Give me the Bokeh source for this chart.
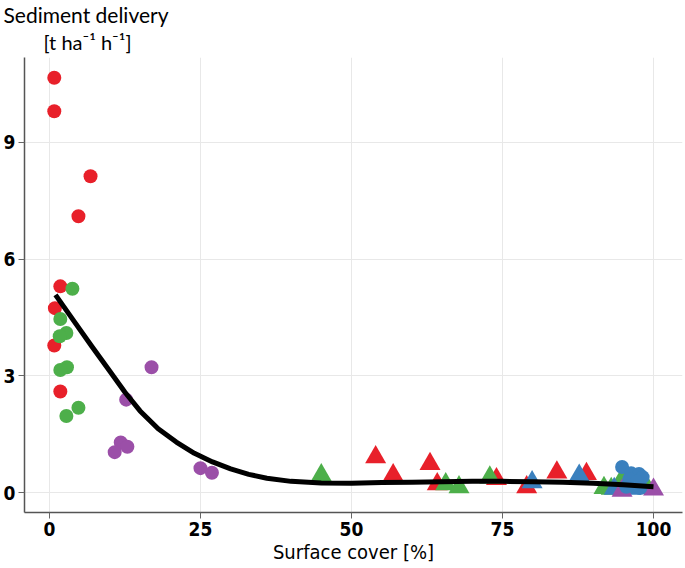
from bokeh.plotting import figure
from bokeh.models import Range1d, Title, FixedTicker
from bokeh.embed import file_html
from bokeh.resources import INLINE

# ---- data ----
red_circ_x = [0.8, 0.8, 6.8, 4.8, 1.8, 0.9, 0.8, 1.8]
red_circ_y = [10.66, 9.80, 8.13, 7.10, 5.30, 4.74, 3.78, 2.60]

green_circ_x = [3.8, 1.8, 2.8, 1.7, 2.9, 1.8, 4.8, 2.8]
green_circ_y = [5.24, 4.46, 4.10, 4.02, 3.22, 3.15, 2.18, 1.97]

purple_circ_x = [16.9, 12.7, 11.8, 12.9, 10.8, 25.0, 26.9]
purple_circ_y = [3.22, 2.39, 1.29, 1.18, 1.04, 0.63, 0.51]

blue_circ_x = [94.8, 96.3, 97.6, 98.2, 96.0, 97.2, 95.5, 97.8]
blue_circ_y = [0.66, 0.50, 0.48, 0.40, 0.35, 0.28, 0.15, 0.12]

red_tri_x = [54.0, 56.9, 63.0, 64.2, 74.0, 79.0, 84.0, 88.9]
red_tri_y = [0.91, 0.45, 0.74, 0.22, 0.35, 0.14, 0.52, 0.48]

green_tri_x = [45.0, 65.6, 67.8, 72.9, 91.8, 93.0, 94.8, 99.0]
green_tri_y = [0.45, 0.22, 0.14, 0.39, 0.12, 0.10, 0.35, 0.12]

blue_tri_x = [79.9, 87.7, 93.5, 96.2, 98.0]
blue_tri_y = [0.27, 0.44, 0.10, 0.10, 0.15]

purple_tri_x = [94.8, 100.0]
purple_tri_y = [0.05, 0.08]

curve_x = [1, 4, 7, 10, 12.5, 15, 18, 21, 24, 27, 30, 33, 36, 40, 45, 50, 55, 60, 65, 70, 75, 80, 85, 90, 95, 100]
curve_y = [5.08, 4.42, 3.76, 3.12, 2.58, 2.1, 1.64, 1.3, 1.01, 0.79, 0.61, 0.47, 0.37, 0.29, 0.25, 0.24,
           0.26, 0.27, 0.28, 0.29, 0.29, 0.28, 0.27, 0.24, 0.2, 0.15]

x_ticks = [0, 25, 50, 75, 100]
y_ticks = [0, 3, 6, 9]

RED = "#E8202A"
GREEN = "#4DAF4A"
BLUE = "#3A80BE"
PURPLE = "#9B4FA8"
NARROW = "DejaVu Sans Condensed, Liberation Sans, sans-serif"

p = figure(width=684, height=567, output_backend="svg", toolbar_location=None,
           x_range=Range1d(-4.13, 104.8), y_range=Range1d(-0.51, 11.18),
           min_border_left=23, min_border_right=2, min_border_top=57, min_border_bottom=55)
p.title.visible = False
p.outline_line_color = None
p.background_fill_color = "white"

for ax, ticks in ((p.xaxis[0], x_ticks), (p.yaxis[0], y_ticks)):
    ax.ticker = FixedTicker(ticks=ticks)
    ax.minor_tick_line_color = None
    ax.major_tick_in = 0
    ax.major_tick_out = 6
    ax.major_tick_line_color = "#666666"
    ax.axis_line_color = "#555555"
    ax.axis_line_width = 1.5
    ax.major_label_text_font = NARROW
    ax.major_label_text_font_style = "bold"
    ax.major_label_text_font_size = "19px"
    ax.major_label_text_color = "black"
    ax.major_label_standoff = 3

p.xaxis[0].axis_label = "Surface cover [%]"
p.xaxis[0].axis_label_text_font = NARROW
p.xaxis[0].axis_label_text_font_style = "normal"
p.xaxis[0].axis_label_text_font_size = "20px"
p.xaxis[0].axis_label_text_color = "black"
p.xaxis[0].axis_label_standoff = 1

p.xgrid.ticker = FixedTicker(ticks=x_ticks)
p.ygrid.ticker = FixedTicker(ticks=y_ticks)
p.grid.grid_line_color = "#E8E8E8"
p.grid.grid_line_width = 1

# points
p.scatter(red_circ_x, red_circ_y, marker="circle", size=14, color=RED, line_color=None)
p.scatter(green_circ_x, green_circ_y, marker="circle", size=14, color=GREEN, line_color=None)
p.scatter(purple_circ_x, purple_circ_y, marker="circle", size=14, color=PURPLE, line_color=None)
p.scatter(red_tri_x, red_tri_y, marker="triangle", size=21, color=RED, line_color=None)
p.scatter(green_tri_x, green_tri_y, marker="triangle", size=21, color=GREEN, line_color=None)
p.scatter(blue_tri_x, blue_tri_y, marker="triangle", size=21, color=BLUE, line_color=None)
p.scatter(purple_tri_x, purple_tri_y, marker="triangle", size=21, color=PURPLE, line_color=None)
p.scatter(blue_circ_x, blue_circ_y, marker="circle", size=14, color=BLUE, line_color=None)

p.line(curve_x, curve_y, line_color="black", line_width=5, line_join="round")

# y-axis title placed above the plot (first added is nearest to the frame)
p.add_layout(Title(text="[t ha\u207b\u00b9 h\u207b\u00b9]", text_font="Lato", text_font_size="20px",
                   text_font_style="normal", text_color="black", align="left", offset=19,
                   standoff=7), "above")
p.add_layout(Title(text="Sediment delivery", text_font="Lato", text_font_size="21px",
                   text_font_style="normal", text_color="black", align="left", offset=-21,
                   standoff=-5), "above")

open("out.html", "w").write(file_html(p, INLINE))
